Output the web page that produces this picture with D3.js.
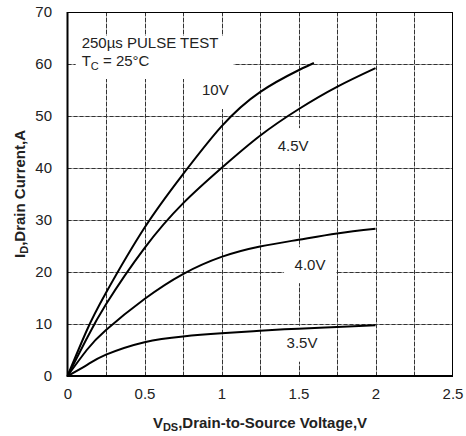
<!DOCTYPE html>
<html>
<head>
<meta charset="utf-8">
<script src="https://cdn.jsdelivr.net/npm/d3@7"></script>
<style>
  body { margin: 0; background: #fff; }
</style>
</head>
<body>
<div id="chart"></div>
<script>
// curves: V_DS (V) against I_D (A)
const vds10 = [0, 0.125, 0.25, 0.5, 0.75, 1.0, 1.25, 1.5, 1.6];
const id10 = [0, 8.75, 16.0, 28.5, 38.8, 48.0, 54.6, 58.8, 60.2];

const vds45 = [0, 0.125, 0.25, 0.5, 0.75, 1.0, 1.25, 1.5, 1.75, 2.0];
const id45 = [0, 7.2, 13.8, 24.6, 33.2, 40, 46.2, 51.3, 55.6, 59.2];

const vds40 = [0, 0.125, 0.25, 0.5, 0.75, 1.0, 1.25, 1.5, 1.75, 2.0];
const id40 = [0, 5, 8.85, 14.8, 19.6, 22.9, 24.9, 26.2, 27.4, 28.3];

const vds35 = [0, 0.125, 0.25, 0.5, 0.75, 1.0, 1.25, 1.5, 1.75, 2.0];
const id35 = [0, 2.1, 4.1, 6.5, 7.6, 8.2, 8.7, 9.1, 9.4, 9.75];

const curveNames = ["10V", "4.5V", "4.0V", "3.5V"];
const labelVds = [0.96, 1.465, 1.575, 1.523];
const labelId = [55, 44.4, 21.5, 6.4];

const xTicks = [0, 0.5, 1, 1.5, 2, 2.5];
const xTickLabels = ["0", "0.5", "1", "1.5", "2", "2.5"];
const yTicks = [0, 10, 20, 30, 40, 50, 60, 70];
const xGrid = [0.25, 0.5, 0.75, 1, 1.25, 1.5, 1.75, 2, 2.25];
const yGrid = [10, 20, 30, 40, 50, 60];

const FONT = "Liberation Sans, Arial, sans-serif";

function drawChart() {
    const width = 466;
    const height = 436;

    const svg = d3.select("#chart")
        .append("svg")
        .attr("width", width)
        .attr("height", height)
        .attr("font-family", FONT);

    const x = d3.scaleLinear().domain([0, 2.5]).range([67.5, 452.5]);
    const y = d3.scaleLinear().domain([0, 70]).range([376, 12]);

    // grid: light solid base with darker dashes on top
    function gridLines(g, stroke, dash) {
        g.selectAll("line.v")
            .data(xGrid)
            .join("line")
            .attr("class", "v")
            .attr("x1", d => Math.round(x(d)) + 0.5)
            .attr("x2", d => Math.round(x(d)) + 0.5)
            .attr("y1", y(70))
            .attr("y2", y(0));
        g.selectAll("line.h")
            .data(yGrid)
            .join("line")
            .attr("class", "h")
            .attr("x1", x(0))
            .attr("x2", x(2.5))
            .attr("y1", d => Math.round(y(d)) + 0.5)
            .attr("y2", d => Math.round(y(d)) + 0.5);
        g.selectAll("line")
            .attr("stroke", stroke)
            .attr("stroke-width", 1)
            .attr("stroke-dasharray", dash);
    }
    gridLines(svg.append("g"), "#a8a8a8", null);
    gridLines(svg.append("g"), "#333", "4,2");

    // test condition note, top left, on a white patch
    const nx = x(0.092);
    svg.append("rect")
        .attr("x", nx - 6).attr("y", y(65) - 2)
        .attr("width", 158).attr("height", y(57.5) - y(65) + 4)
        .attr("fill", "#fff");
    svg.append("text")
        .attr("x", nx)
        .attr("y", y(63.0))
        .attr("font-size", 15)
        .attr("fill", "#222")
        .text("250µs PULSE TEST");
    const tc = svg.append("text")
        .attr("x", nx)
        .attr("y", y(59.6))
        .attr("font-size", 15)
        .attr("fill", "#222");
    tc.append("tspan").text("T");
    tc.append("tspan").attr("font-size", 11).attr("dy", 4).text("C");
    tc.append("tspan").attr("dy", -4).text(" = 25°C");

    // curve labels on white patches
    svg.append("g")
        .selectAll("rect")
        .data(curveNames)
        .join("rect")
        .attr("x", (d, i) => x(labelVds[i]) - 26)
        .attr("y", (d, i) => y(labelId[i]) - 17)
        .attr("width", 52)
        .attr("height", 36)
        .attr("fill", "#fff");
    svg.append("g")
        .selectAll("text")
        .data(curveNames)
        .join("text")
        .attr("x", (d, i) => x(labelVds[i]))
        .attr("y", (d, i) => y(labelId[i]))
        .attr("dy", "0.36em")
        .attr("text-anchor", "middle")
        .attr("font-size", 15)
        .attr("fill", "#222")
        .text(d => d);

    // curves
    const series = [
        [vds10, id10],
        [vds45, id45],
        [vds40, id40],
        [vds35, id35]
    ];
    const line = d3.line()
        .x(d => x(d[0]))
        .y(d => y(d[1]))
        .curve(d3.curveNatural);
    svg.append("g")
        .selectAll("path")
        .data(series)
        .join("path")
        .attr("d", s => line(d3.zip(s[0], s[1])))
        .attr("fill", "none")
        .attr("stroke", "#000")
        .attr("stroke-width", 2);

    // frame: heavier left and bottom
    svg.append("rect")
        .attr("x", x(0)).attr("y", y(70) + 0.5)
        .attr("width", x(2.5) - x(0)).attr("height", y(0) - y(70))
        .attr("fill", "none").attr("stroke", "#000").attr("stroke-width", 1);
    svg.append("path")
        .attr("d", `M${x(0)},${y(70)}V${y(0)}H${x(2.5)}`)
        .attr("fill", "none").attr("stroke", "#000").attr("stroke-width", 2);

    // axes
    const xAxis = svg.append("g")
        .attr("transform", `translate(0,${y(0)})`)
        .call(d3.axisBottom(x)
            .tickValues(xTicks)
            .tickFormat((d, i) => xTickLabels[i])
            .tickSize(0)
            .tickPadding(12));
    const yAxis = svg.append("g")
        .attr("transform", `translate(${x(0)},0)`)
        .call(d3.axisLeft(y)
            .tickValues(yTicks)
            .tickSize(0)
            .tickPadding(15.5));
    [xAxis, yAxis].forEach(a => {
        a.select(".domain").remove();
        a.attr("font-size", 15).attr("font-family", FONT);
        a.selectAll("text").attr("fill", "#222");
    });

    // axis titles
    const xt = svg.append("text")
        .attr("x", (x(0) + x(2.5)) / 2)
        .attr("y", 428)
        .attr("text-anchor", "middle")
        .attr("font-size", 15)
        .attr("font-weight", "bold")
        .attr("fill", "#222");
    xt.append("tspan").text("V");
    xt.append("tspan").attr("font-size", 11).attr("dy", 3).text("DS");
    xt.append("tspan").attr("dy", -3).text(",Drain-to-Source Voltage,V");

    const yt = svg.append("text")
        .attr("transform", `translate(25,${(y(0) + y(70)) / 2}) rotate(-90)`)
        .attr("text-anchor", "middle")
        .attr("font-size", 15)
        .attr("font-weight", "bold")
        .attr("fill", "#222");
    yt.append("tspan").text("I");
    yt.append("tspan").attr("font-size", 11).attr("dy", 3).text("D");
    yt.append("tspan").attr("dy", -3).text(",Drain Current,A");
}
drawChart();
</script>
</body>
</html>
